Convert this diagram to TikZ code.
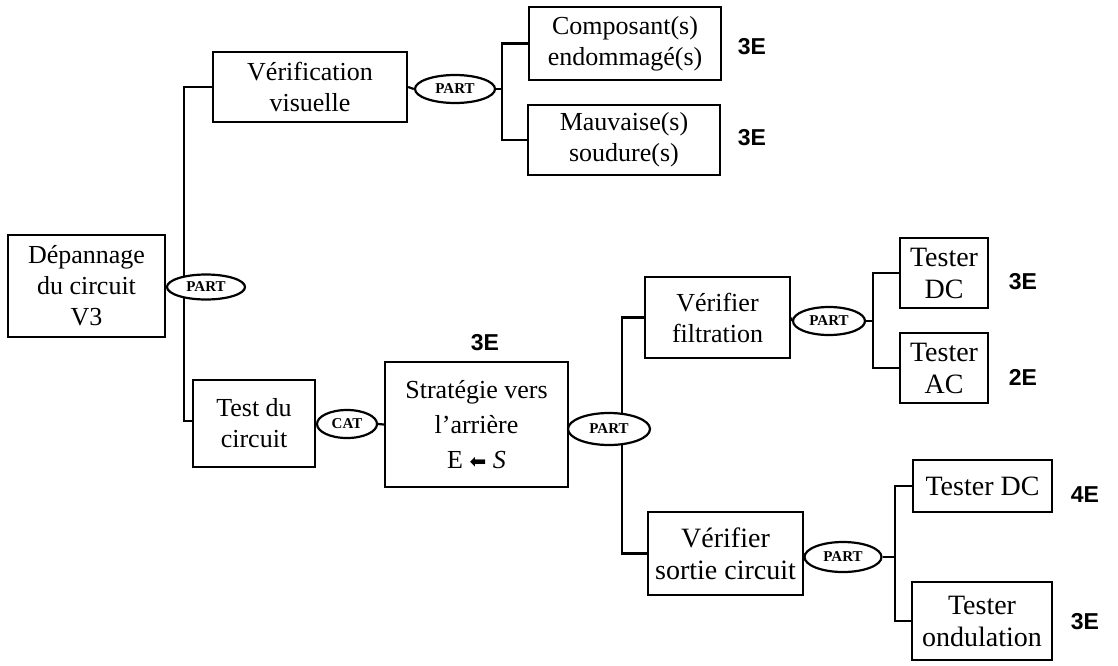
\documentclass[tikz,border=0pt]{standalone}
\usepackage{fontspec}
\setmainfont{Liberation Serif}
\newfontfamily\labfont{Liberation Sans}
\newfontfamily\arrowfont{DejaVu Sans}
\usetikzlibrary{shapes.geometric,backgrounds,calc}
\begin{document}
\begin{tikzpicture}[x=1pt,y=-1pt,
  box/.style={draw, line width=2.2pt, fill=white, rectangle, inner sep=0pt, align=center,
    font=\fontsize{26}{31}\selectfont},
  bigbox/.style={box, font=\fontsize{28}{32}\selectfont},
  rel/.style={draw, line width=2.2pt, fill=white, ellipse, inner sep=0pt,
    font=\fontsize{15}{17}\selectfont\bfseries},
  lab/.style={inner sep=0pt, font=\labfont\bfseries\fontsize{23}{26}\selectfont},
  conn/.style={line width=2.2pt}]
\useasboundingbox (0,0) rectangle (1118,665);

% boxes
\node[box, minimum width=157, minimum height=102] (dep) at (86.5,286) {Dépannage\\du circuit\\V3};
\node[box, minimum width=194, minimum height=70] (vv) at (310,87) {Vérification\\visuelle};
\node[box, minimum width=192, minimum height=73] (comp) at (625,43.5) {Composant(s)\\endommagé(s)};
\node[box, minimum width=192, minimum height=70] (mauv) at (624,140) {Mauvaise(s)\\soudure(s)};
\node[box, minimum width=122, minimum height=87] (test) at (254,423.5) {Test du\\circuit};
\node[box, minimum width=183, minimum height=125, font=\fontsize{26}{35}\selectfont] (strat) at (476.5,424.5)
  {Stratégie vers\\l'arrière\\E {\arrowfont\fontsize{20}{20}\selectfont ⬅} \textit{S}};
\node[box, minimum width=145, minimum height=81] (vfil) at (717.5,317.5) {Vérifier\\filtration};
\node[bigbox, minimum width=88, minimum height=70] (tdc1) at (944,273) {Tester\\DC};
\node[bigbox, minimum width=88, minimum height=70] (tac) at (944,368) {Tester\\AC};
\node[bigbox, minimum width=155, minimum height=83] (vsor) at (725.5,553.5) {Vérifier\\sortie circuit};
\node[bigbox, minimum width=139, minimum height=52] (tdc2) at (982.5,486) {Tester DC};
\node[bigbox, minimum width=140, minimum height=78] (tond) at (982,621) {Tester\\ondulation};

% relation ellipses
\node[rel, minimum width=78, minimum height=25] (e1) at (206,287) {PART};
\node[rel, minimum width=80, minimum height=28] (e2) at (455,89) {PART};
\node[rel, minimum width=60, minimum height=28] (e3) at (347,424) {CAT};
\node[rel, minimum width=82, minimum height=32] (e4) at (609,429) {PART};
\node[rel, minimum width=72, minimum height=28] (e5) at (829,321) {PART};
\node[rel, minimum width=77, minimum height=30] (e6) at (843,557) {PART};

% labels
\node[lab] (l1) at (752,47) {3E};
\node[lab] (l2) at (752,138) {3E};
\node[lab] (l3) at (485,343) {3E};
\node[lab] (l4) at (1023,282) {3E};
\node[lab] (l5) at (1023,377) {2E};
\node[lab] (l6) at (1085,495) {4E};
\node[lab] (l7) at (1085,622) {3E};

% junctions
\coordinate (j1) at (184,421);
\coordinate (j2) at (502,89);
\coordinate (j4) at (622,429);
\coordinate (j5) at (873,321);
\coordinate (j6) at (895,557);

\begin{pgfonlayer}{background}
\draw[conn] (dep.east) -- (e1.west);
\draw[conn] (vv.west) -| (j1) -- (j1 -| test.west);
\draw[conn] (vv.east) -- (e2.west);
\draw[conn] (e2.east) -- (j2);
\draw[conn] (comp.west) -| (j2) |- (mauv.west);
\draw[conn] (test.east) -- (e3.west);
\draw[conn] (e3.east) -- (strat.west);
\draw[conn] (strat.east) -- (e4.west);
\draw[conn] (vfil.west) -| (j4) |- (vsor.west);
\draw[conn] (vfil.east) -- (e5.west);
\draw[conn] (e5.east) -- (j5);
\draw[conn] (tdc1.west) -| (j5) |- (tac.west);
\draw[conn] (vsor.east) -- (e6.west);
\draw[conn] (e6.east) -- (j6);
\draw[conn] (tdc2.west) -| (j6) |- (tond.west);
\end{pgfonlayer}
\end{tikzpicture}
\end{document}
